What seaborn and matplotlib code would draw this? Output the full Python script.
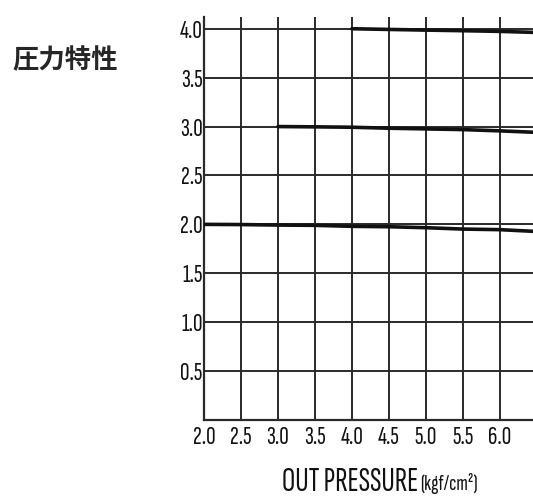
import matplotlib
matplotlib.use("Agg")
import matplotlib.pyplot as plt
import seaborn as sns
import pandas as pd
from matplotlib.font_manager import FontProperties

# ---- data ----
x_ticks = [2.0, 2.5, 3.0, 3.5, 4.0, 4.5, 5.0, 5.5, 6.0]
y_ticks = [0.5, 1.0, 1.5, 2.0, 2.5, 3.0, 3.5, 4.0]

curve_4_x = [4.0, 4.5, 5.0, 5.5, 6.0, 6.45]
curve_4_y = [4.0, 3.993, 3.986, 3.98, 3.973, 3.963]

curve_3_x = [3.0, 3.5, 4.0, 4.5, 5.0, 5.5, 6.0, 6.45]
curve_3_y = [3.0, 2.997, 2.993, 2.983, 2.976, 2.969, 2.956, 2.942]

curve_2_x = [2.0, 2.5, 3.0, 3.5, 4.0, 4.5, 5.0, 5.5, 6.0, 6.45]
curve_2_y = [2.0, 1.998, 1.993, 1.99, 1.98, 1.976, 1.966, 1.952, 1.946, 1.929]

title = "圧力特性"
xlabel_main = "OUT PRESSURE"
xlabel_unit = "(kgf/cm²)"

# ---- build table ----
frames = []
for name, xs, ys in [("4.0", curve_4_x, curve_4_y),
                     ("3.0", curve_3_x, curve_3_y),
                     ("2.0", curve_2_x, curve_2_y)]:
    frames.append(pd.DataFrame({"x": xs, "y": ys, "set": name}))
df = pd.concat(frames, ignore_index=True)

sns.set_theme(style="white")
narrow_family = ["Sofia Sans Extra Condensed", "DejaVu Sans"]
plt.rcParams["font.family"] = narrow_family

fig = plt.figure(figsize=(5.33, 5.0), dpi=100)
renderer = fig.canvas.get_renderer()


def text_w(s, size, weight="normal"):
    p = FontProperties(family=narrow_family, size=size, weight=weight)
    w, h, d = renderer.get_text_width_height_descent(s, p, False)
    return w


main_size = min(26, 10 * 137 / text_w(xlabel_main, 10))
tick_size = 19
unit_size = 16

ax = fig.add_axes([0.3827, 0.16, 0.6173, 0.806])
ax.set_xlim(2.0, 6.45)
ax.set_ylim(0, 4.12)

for xv in x_ticks[1:]:
    ax.axvline(xv, color="#2a2a2a", lw=1.4, zorder=1)
for yv in y_ticks:
    ax.axhline(yv, color="#2a2a2a", lw=1.4, zorder=1)

sns.lineplot(data=df, x="x", y="y", units="set", estimator=None,
             color="#111111", lw=2.6, ax=ax, legend=False, zorder=3)

ax.set_xticks(x_ticks)
ax.set_xticklabels([f"{v:.1f}" for v in x_ticks])
ax.set_yticks(y_ticks)
ax.set_yticklabels([f"{v:.1f}" for v in y_ticks])
ax.tick_params(axis="both", length=0, colors="#111111", labelsize=tick_size)
ax.tick_params(axis="x", pad=4)
ax.tick_params(axis="y", pad=1)
ax.set_xlabel("")
ax.set_ylabel("")

for s in ["top", "right"]:
    ax.spines[s].set_visible(False)
for s in ["left", "bottom"]:
    ax.spines[s].set_color("#2a2a2a")
    ax.spines[s].set_linewidth(1.6)

main_x = 282
main_w = text_w(xlabel_main, main_size)
fig.text(main_x / 533, 1 - 482 / 500, xlabel_main, fontsize=main_size,
         family=narrow_family, color="#111111", ha="left", va="center")
fig.text((main_x + main_w + 2) / 533, 1 - 484 / 500, xlabel_unit,
         fontsize=unit_size, family=narrow_family, weight="bold",
         color="#111111", ha="left", va="center")

fig.text(12 / 533, 1 - 61 / 500, title, fontsize=19, weight="bold",
         ha="left", va="center", family=["Noto Sans CJK JP", "DejaVu Sans"])

fig.savefig("out.png", dpi=100)
